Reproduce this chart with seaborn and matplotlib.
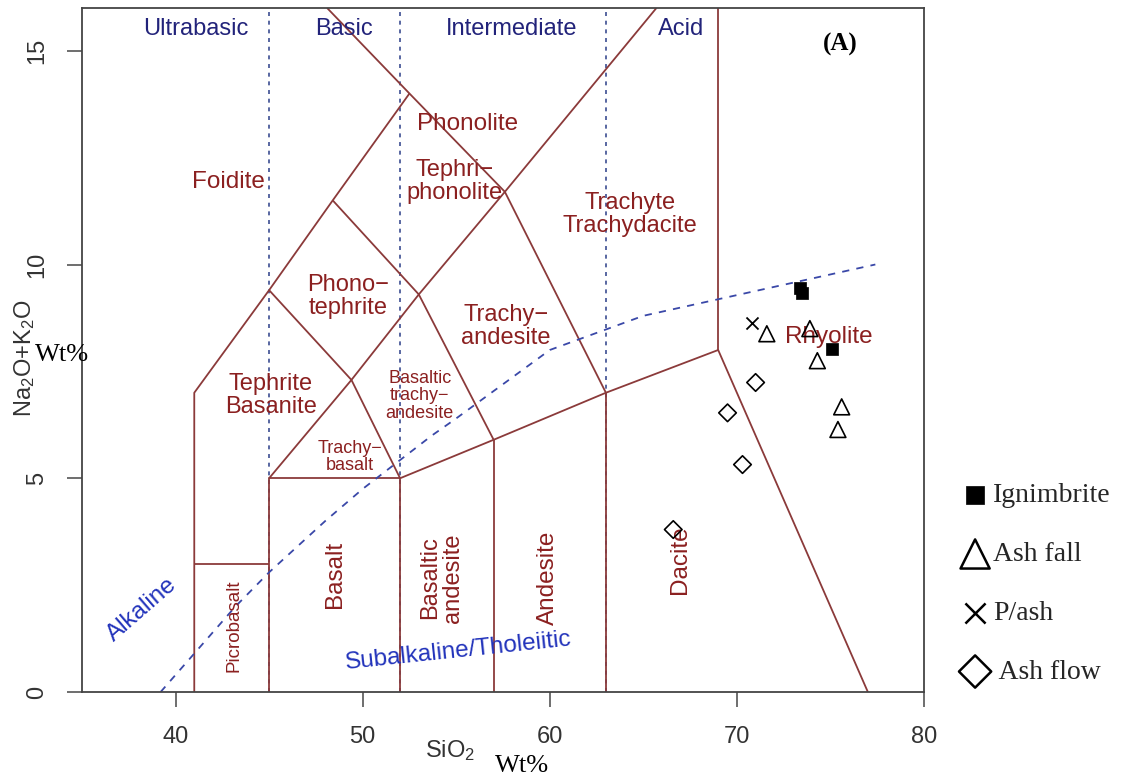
import matplotlib
matplotlib.use("Agg")
import matplotlib.pyplot as plt
import seaborn as sns
import pandas as pd

# ---------------- data ----------------
# samples
ign_x = [73.35, 73.5, 75.1]
ign_y = [9.45, 9.33, 8.03]
fall_x = [71.6, 73.9, 74.3, 75.6, 75.4]
fall_y = [8.38, 8.5, 7.75, 6.67, 6.14]
pash_x = [70.8]
pash_y = [8.64]
flow_x = [71.0, 69.5, 70.3, 66.6]
flow_y = [7.24, 6.53, 5.32, 3.8]

series_names = ["Ignimbrite", "Ash fall", "P/ash", " Ash flow"]

# TAS field boundaries (polylines)
tas_lines = [
    ([41, 41, 45, 48.4, 52.5], [0, 7, 9.4, 11.5, 14]),
    ([41, 45], [3, 3]),
    ([45, 45, 52, 52], [0, 5, 5, 0]),
    ([57, 57], [0, 5.9]),
    ([63, 63], [0, 7]),
    ([52, 57, 63, 69, 77], [5, 5.9, 7, 8, 0]),
    ([69, 69], [8, 16]),
    ([45, 49.4, 52], [5, 7.3, 5]),
    ([45, 49.4, 53, 57], [9.4, 7.3, 9.3, 5.9]),
    ([48.4, 53, 57.6, 63], [11.5, 9.3, 11.7, 7]),
    ([48.1, 52.5, 57.6, 65.7], [16, 14, 11.7, 16]),
]
# silica class dividers
div_x = [45, 52, 63]
# alkaline / subalkaline divide (Irvine & Baragar)
alk_x = [39.2, 40, 43.2, 45, 48, 50, 53.7, 55, 60, 65, 77.4]
alk_y = [0, 0.4, 2, 2.8, 4, 4.75, 6, 6.4, 8, 8.8, 10]

# field names
field_txt = ["Phonolite", "Foidite", "Tephri\u2212\nphonolite", "Trachyte\nTrachydacite",
             "Phono\u2212\ntephrite", "Trachy\u2212\nandesite", "Rhyolite",
             "Tephrite\nBasanite", "Basaltic\ntrachy\u2212\nandesite", "Trachy\u2212\nbasalt",
             "Picrobasalt", "Basalt", "Basaltic\nandesite", "Andesite", "Dacite"]
field_x = [55.6, 42.8, 54.9, 64.3, 49.2, 57.65, 74.9, 45.1, 53.05, 49.3,
           43.15, 48.5, 54.2, 59.9, 66.95]
field_y = [13.28, 11.94, 11.95, 11.17, 9.25, 8.55, 8.31, 6.93, 6.93, 5.5,
           1.55, 2.74, 2.67, 2.67, 3.1]
field_rot = [0, 0, 0, 0, 0, 0, 0, 0, 0, 0, 90, 90, 90, 90, 90]
field_size = [17.5, 17.5, 17, 17, 17, 17, 17.5, 17, 13, 13, 13.5, 17.5, 17, 17.5, 17.5]

class_txt = ["Ultrabasic", "Basic", "Intermediate", "Acid"]
class_x = [41.07, 49.0, 57.97, 67.0]
class_y = [15.5, 15.5, 15.5, 15.5]

series_txt = ["Alkaline", "Subalkaline/Tholeiitic"]
series_x = [38.2, 55.1]
series_y = [1.92, 0.95]
series_rot = [41, 6]

xticks = [40, 50, 60, 70, 80]
yticks = [0, 5, 10, 15]

# ---------------- style ----------------
sns.set_theme(style="ticks")
plt.rcParams["font.family"] = ["Liberation Sans", "DejaVu Sans"]
plt.rcParams["mathtext.default"] = "regular"

line_col = "#8b3a3a"
lab_col = "#8b2020"
navy = "#22237a"
blue = "#2233bb"
div_col = "#4a5a9a"

fig = plt.figure(figsize=(11.23, 7.76), dpi=100)
ax = fig.add_axes([82 / 1123, 1 - 692 / 776, (924 - 82) / 1123, (692 - 8) / 776])
ax.set_xlim(35, 80)
ax.set_ylim(0, 16)

for xv in div_x:
    ax.plot([xv, xv], [0, 16], color=div_col, lw=1.3, ls=(0, (2.2, 2.6)), zorder=1)

for xs, ys in tas_lines:
    ax.plot(xs, ys, color=line_col, lw=1.3, zorder=2, solid_capstyle="butt")

alk_df = pd.DataFrame({"x": alk_x, "y": alk_y})
sns.lineplot(data=alk_df, x="x", y="y", sort=False, ax=ax, color="#3a48a8",
             lw=1.3, dashes=False, zorder=2)
ax.lines[-1].set_linestyle((0, (4, 4)))

for t, x, y, r, s in zip(field_txt, field_x, field_y, field_rot, field_size):
    ax.text(x, y, t, ha="center", va="center", rotation=r, fontsize=s,
            color=lab_col, linespacing=1.05, multialignment="center", zorder=3)

for t, x, y in zip(class_txt, class_x, class_y):
    ax.text(x, y, t, ha="center", va="center", fontsize=17, color=navy, zorder=3)

for t, x, y, r in zip(series_txt, series_x, series_y, series_rot):
    ax.text(x, y, t, ha="center", va="center", rotation=r, fontsize=17.5,
            color=blue, zorder=3, rotation_mode="anchor")

ax.text(75.5, 15.15, "(A)", ha="center", va="center", fontsize=18,
        fontweight="bold", family="Liberation Serif", color="black")

# samples
sns.scatterplot(x=ign_x, y=ign_y, marker="s", s=75, color="black",
                edgecolor="black", linewidth=0.5, ax=ax, label=series_names[0], zorder=5)
sns.scatterplot(x=fall_x, y=fall_y, marker="^", s=130, color="black",
                facecolor="none", edgecolor="black", linewidth=1.2, ax=ax,
                label=series_names[1], zorder=5)
sns.scatterplot(x=pash_x, y=pash_y, marker="x", s=75, color="black",
                linewidth=1.3, ax=ax, label=series_names[2], zorder=5)
sns.scatterplot(x=flow_x, y=flow_y, marker="D", s=80, color="black",
                facecolor="none", edgecolor="black", linewidth=1.2, ax=ax,
                label=series_names[3], zorder=5)

leg = ax.legend(loc="center left", bbox_to_anchor=(1.031, 0.158), frameon=False,
                handlelength=1.0, handletextpad=0.15,
                labelspacing=1.2, borderaxespad=0,
                prop={"family": "Liberation Serif", "size": 20})
for h, sz, lw in zip(leg.legend_handles, [160, 440, 210, 270], [0.5, 1.8, 1.8, 1.8]):
    h.set_sizes([sz])
    h.set_linewidth(lw)

# axes styling
ax.set_xticks(xticks)
ax.set_yticks(yticks)
ax.set_xlabel("")
ax.set_ylabel("")
for sp in ax.spines.values():
    sp.set_visible(True)
    sp.set_color("#444444")
    sp.set_linewidth(1.3)
ax.tick_params(axis="both", direction="out", length=10.5, width=1.2, color="#555555",
               labelsize=17, labelcolor="#333333", pad=14)
for lab in ax.get_yticklabels():
    lab.set_rotation(90)
    lab.set_va("center")

fig.text(25 / 1123, 1 - 358 / 776, "Na$_2$O+K$_2$O", rotation=90, ha="center",
         va="center", fontsize=17, color="#333333")
fig.text(35 / 1123, 1 - 355 / 776, "Wt%", ha="left", va="center", fontsize=19,
         family="Liberation Serif", color="black")
fig.text(450 / 1123, 1 - 751 / 776, "SiO$_2$", ha="center", va="center",
         fontsize=17, color="#333333")
fig.text(522 / 1123, 1 - 766 / 776, "Wt%", ha="center", va="center", fontsize=19,
         family="Liberation Serif", color="black")

fig.savefig("out.png", dpi=100, facecolor="white")
